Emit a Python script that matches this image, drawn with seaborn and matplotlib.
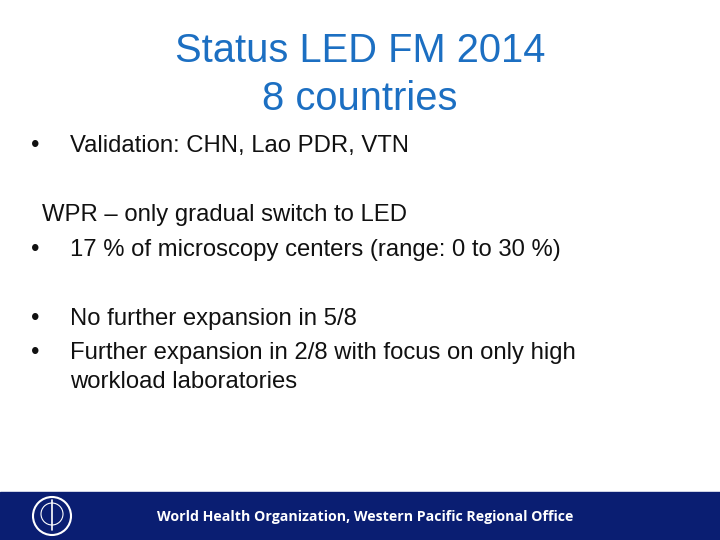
import matplotlib.pyplot as plt
import seaborn as sns
from matplotlib.patches import Rectangle, Circle, Ellipse

# ── Slide content ─────────────────────────────────────────────
title_lines = ['Status LED FM 2014', '8 countries']
bullets_1 = ['Validation: CHN, Lao PDR, VTN']
heading_2 = 'WPR – only gradual switch to LED'
bullets_2 = ['17 % of microscopy centers (range: 0 to 30 %)']
bullets_3 = ['No further expansion in 5/8',
             'Further expansion in 2/8 with focus on only high\nworkload laboratories']
footer = 'World Health Organization, Western Pacific Regional Office'

sns.set_theme(style='white')
plt.rcParams['font.family'] = ['Liberation Sans', 'DejaVu Sans']

fig = plt.figure(figsize=(7.2, 5.4), dpi=100)
ax = fig.add_axes([0, 0, 1, 1])
ax.set_xlim(0, 720)
ax.set_ylim(540, 0)
ax.axis('off')

blue = '#1C6FC2'
ax.text(360, 51, title_lines[0], ha='center', va='center', fontsize=28.7, color=blue)
ax.text(360, 99, title_lines[1], ha='center', va='center', fontsize=28.7, color=blue)

body = dict(fontsize=17.2, color='#111111', va='center')

def bullet(y, txt):
    ax.text(31, y, '•', **body)
    ax.text(70, y, txt, **body)

bullet(146, bullets_1[0])
ax.text(42, 215, heading_2, **body)
bullet(250, bullets_2[0])
bullet(319, bullets_3[0])
ax.text(31, 353, '•', **body)
ax.text(70, 353, bullets_3[1].split('\n')[0], **body)
ax.text(70, 382, bullets_3[1].split('\n')[1], **body)

# footer band
ax.add_patch(Rectangle((0, 492), 720, 48, color='#0A1E72', zorder=1))
ax.text(365, 517, footer, ha='center', va='center', fontsize=10.2,
        fontweight='bold', color='white', family=['Open Sans', 'DejaVu Sans'], zorder=2)
# simple emblem
ax.add_patch(Circle((52, 516), 19, fill=False, ec='white', lw=1.5, zorder=2))
ax.add_patch(Ellipse((52, 514), 22, 22, fill=False, ec='white', lw=0.8, zorder=2))
ax.plot([52, 52], [500, 530], color='white', lw=1.2, zorder=3)

fig.savefig('out.png', dpi=100)
